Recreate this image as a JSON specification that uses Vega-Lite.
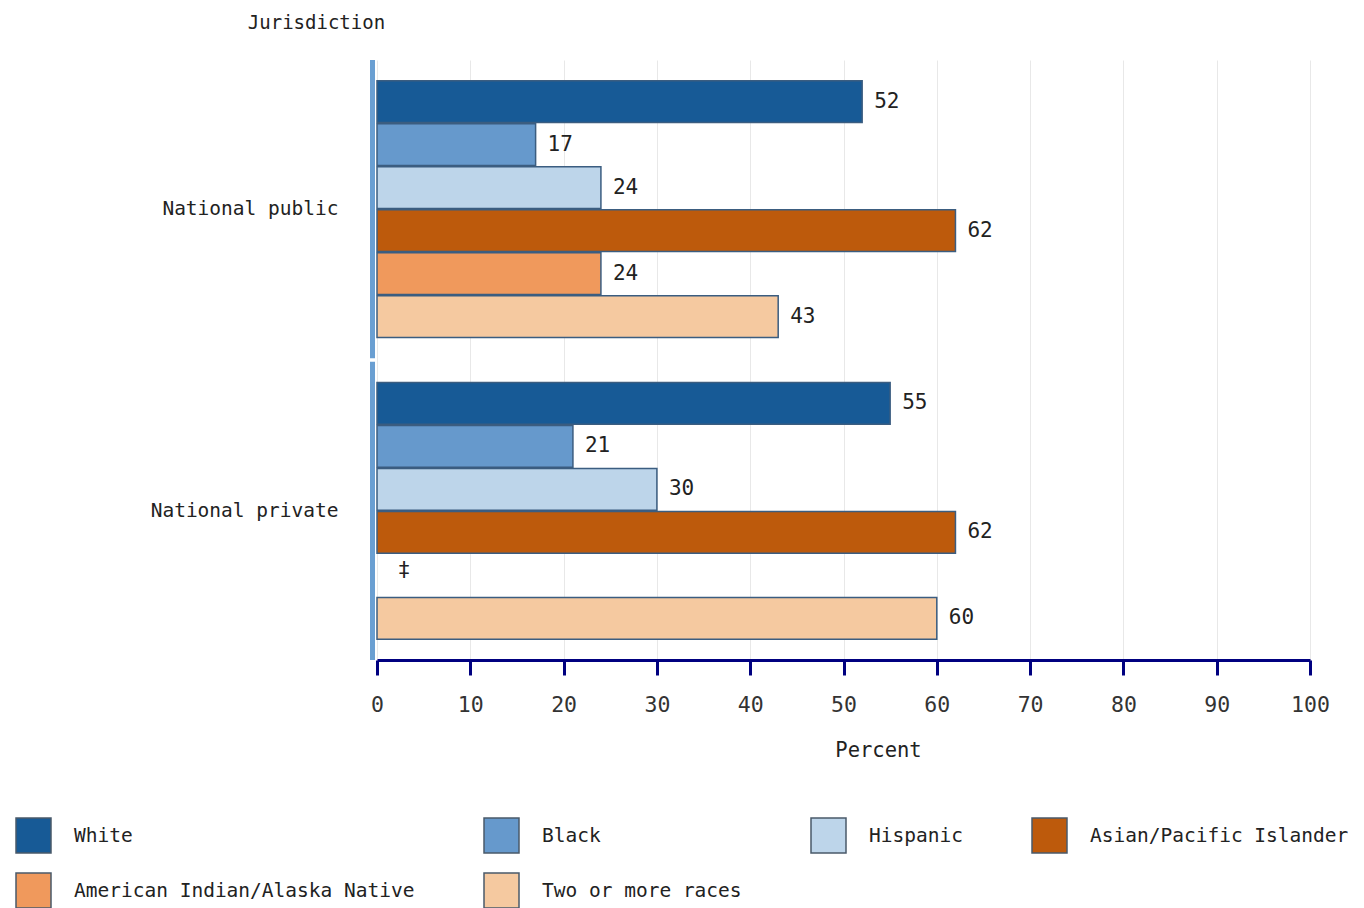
{
  "$schema": "https://vega.github.io/schema/vega-lite/v6.json",
  "width": 933,
  "height": 600,
  "autosize": {"type": "none"},
  "padding": {"left": 377, "top": 60, "right": 54, "bottom": 248},
  "background": "white",
  "config": {
    "view": {"stroke": null},
    "font": "DejaVu Sans Mono"
  },
  "data": {
    "values": [
      {"jur": "National public", "race": "White", "pct": 52, "label": "52"},
      {"jur": "National public", "race": "Black", "pct": 17, "label": "17"},
      {"jur": "National public", "race": "Hispanic", "pct": 24, "label": "24"},
      {"jur": "National public", "race": "Asian/Pacific Islander", "pct": 62, "label": "62"},
      {"jur": "National public", "race": "American Indian/Alaska Native", "pct": 24, "label": "24"},
      {"jur": "National public", "race": "Two or more races", "pct": 43, "label": "43"},
      {"jur": "National private", "race": "White", "pct": 55, "label": "55"},
      {"jur": "National private", "race": "Black", "pct": 21, "label": "21"},
      {"jur": "National private", "race": "Hispanic", "pct": 30, "label": "30"},
      {"jur": "National private", "race": "Asian/Pacific Islander", "pct": 62, "label": "62"},
      {"jur": "National private", "race": "American Indian/Alaska Native", "pct": null, "label": "‡"},
      {"jur": "National private", "race": "Two or more races", "pct": 60, "label": "60"}
    ]
  },
  "encoding": {
    "y": {
      "field": "jur",
      "type": "nominal",
      "sort": ["National public", "National private"],
      "scale": {"paddingInner": 0.012, "paddingOuter": 0},
      "axis": {
        "title": "Jurisdiction",
        "titleAngle": 0,
        "titleAlign": "center",
        "titleBaseline": "middle",
        "titleX": -61,
        "titleY": -38,
        "titleFont": "DejaVu Sans Mono",
        "titleFontSize": 19,
        "titleFontWeight": "normal",
        "titleColor": "#222222",
        "domain": false,
        "ticks": false,
        "tickSize": 0,
        "labelPadding": 39,
        "labelLimit": 340,
        "labelFont": "DejaVu Sans Mono",
        "labelFontSize": 19.5,
        "labelColor": "#222222",
        "grid": false
      }
    },
    "yOffset": {
      "field": "race",
      "type": "nominal",
      "sort": ["White", "Black", "Hispanic", "Asian/Pacific Islander", "American Indian/Alaska Native", "Two or more races"],
      "scale": {"paddingInner": 0.03, "paddingOuter": 0.48}
    }
  },
  "layer": [
    {
      "mark": {"type": "bar", "stroke": "#3b5d80", "strokeWidth": 1.5},
      "encoding": {
        "x": {
          "field": "pct",
          "type": "quantitative",
          "scale": {"domain": [0, 100], "nice": false},
          "axis": {
            "title": "Percent",
            "titleFont": "DejaVu Sans Mono",
            "titleFontSize": 20.5,
            "titleFontWeight": "normal",
            "titleColor": "#222222",
            "titleX": 501,
            "titleY": 90,
            "titleBaseline": "middle",
            "titleAlign": "center",
            "values": [0, 10, 20, 30, 40, 50, 60, 70, 80, 90, 100],
            "labelFlush": false,
            "domainColor": "#000080",
            "domainWidth": 3,
            "tickColor": "#000080",
            "tickWidth": 3,
            "tickSize": 15,
            "labelPadding": 19,
            "labelFont": "DejaVu Sans Mono",
            "labelFontSize": 21.5,
            "labelColor": "#333333",
            "grid": true,
            "gridColor": "#e8e8e8",
            "gridWidth": 1
          }
        },
        "color": {
          "field": "race",
          "type": "nominal",
          "scale": {
            "domain": ["White", "Black", "Hispanic", "Asian/Pacific Islander", "American Indian/Alaska Native", "Two or more races"],
            "range": ["#175a96", "#6699cc", "#bdd5ea", "#bd5a0c", "#f0995c", "#f5c9a0"]
          },
          "legend": {
            "title": null,
            "orient": "none",
            "legendX": -362,
            "legendY": 757,
            "direction": "horizontal",
            "columns": 4,
            "gridAlign": "each",
            "columnPadding": 66,
            "rowPadding": 14,
            "symbolType": "square",
            "symbolSize": 1225,
            "symbolStrokeColor": "#4a5a6a",
            "symbolStrokeWidth": 1.5,
            "symbolOpacity": 1,
            "labelFont": "DejaVu Sans Mono",
            "labelFontSize": 19.5,
            "labelColor": "#222222",
            "labelOffset": 22,
            "labelLimit": 500
          }
        }
      }
    },
    {
      "mark": {"type": "text", "align": "left", "baseline": "middle", "dx": 12, "font": "DejaVu Sans Mono", "fontSize": 21, "color": "#222222"},
      "encoding": {
        "x": {"field": "pct", "type": "quantitative"},
        "text": {"field": "label"}
      }
    },
    {
      "transform": [{"filter": "datum.pct == null"}],
      "mark": {"type": "text", "align": "center", "baseline": "middle", "dx": 27, "dy": -4, "font": "DejaVu Sans Mono", "fontSize": 21, "color": "#222222"},
      "encoding": {
        "x": {"datum": 0, "type": "quantitative"},
        "text": {"field": "label"}
      }
    },
    {
      "transform": [{"filter": "datum.race == 'White'"}],
      "mark": {"type": "bar", "color": "#6a9fd2", "xOffset": -7, "x2Offset": -2},
      "encoding": {
        "x": {"datum": 0, "type": "quantitative"},
        "x2": {"datum": 0},
        "yOffset": null
      }
    }
  ]
}
